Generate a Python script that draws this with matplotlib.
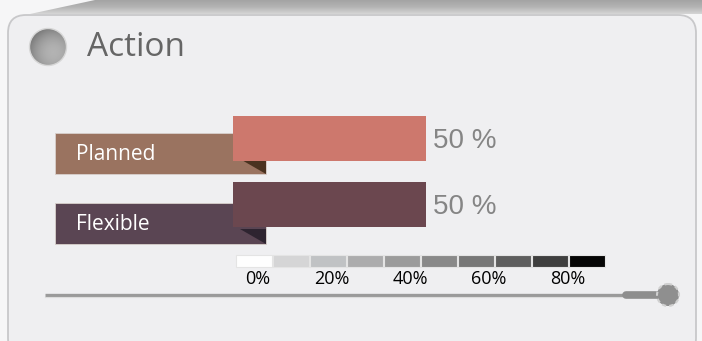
import numpy as np
import matplotlib
matplotlib.use("Agg")
import matplotlib.pyplot as plt
from matplotlib.patches import FancyBboxPatch, Rectangle, Polygon, Circle

# data
categories = ["Planned", "Flexible"]
values = [50, 50]
bar_colors = ["#cd786d", "#6b474f"]
label_colors = ["#9a7360", "#5a4553"]
corner_colors = ["#4a3220", "#2e2430"]
scale_colors = ["#fefefe", "#d5d5d6", "#c0c2c4", "#acacad", "#9b9b9b",
                "#898989", "#777777", "#5e5e5e", "#3f3f3f", "#050505"]
scale_labels = ["0%", "20%", "40%", "60%", "80%"]
scale_label_x = [258, 332, 410, 489, 568]

W, H = 702, 341
fig = plt.figure(figsize=(W / 100, H / 100), dpi=100)
fig.patch.set_facecolor("#f6f6f7")

# pixel-space overlay for the widget decoration
bg = fig.add_axes([0, 0, 1, 1], zorder=0)
bg.set_xlim(0, W); bg.set_ylim(H, 0); bg.axis("off")

# top gray strip
grad = np.linspace(0, 1, 20)[:, None] * np.ones((1, 50))
bg.imshow(grad, extent=(0, W, 14, 0), cmap=matplotlib.colors.LinearSegmentedColormap.from_list(
    "strip", ["#a4a4a4", "#b4b4b4", "#d4d4d4"]), aspect="auto", zorder=0)
bg.add_patch(Polygon([[0, 0], [95, 0], [30, 14], [0, 30]], closed=True,
                     facecolor="#f6f6f7", edgecolor="none", zorder=1))

# panel
bg.add_patch(FancyBboxPatch((8, 15), W - 14, H, boxstyle="round,pad=0,rounding_size=18",
                            facecolor="#efeff1", edgecolor="#c8c8ca", lw=1.3, zorder=2))

# round icon
yy, xx = np.mgrid[-1:1:60j, -1:1:60j]
shade = 0.68 + 0.14 * (xx + yy) / 2 - 0.12 * (xx ** 2 + yy ** 2)
im = bg.imshow(shade, extent=(29, 67, 66, 28), cmap="gray", vmin=0, vmax=1, zorder=3)
circ = Circle((48, 47), 18.5, transform=bg.transData)
im.set_clip_path(circ)
bg.add_patch(Circle((48, 47), 18.5, facecolor="none", edgecolor="#d6d6d6", lw=1, zorder=4))
bg.text(87, 47, "Action", fontsize=24, family="Open Sans", color="#666666",
        va="center", ha="left", zorder=4)

# category label boxes
box_y = [133, 203]
for i, cat in enumerate(categories):
    y0 = box_y[i]
    bg.add_patch(Rectangle((55, y0), 211, 41, facecolor=label_colors[i],
                           edgecolor="#d8d0cc", lw=0.6, zorder=3))
    bg.add_patch(Polygon([[240, y0 + 26], [266, y0 + 26], [266, y0 + 41]], closed=True,
                         facecolor=corner_colors[i], edgecolor="none", zorder=3))
    bg.text(76, y0 + 21, cat, fontsize=15, family="Open Sans", color="white",
            va="center", ha="left", zorder=4)

# gray scale legend
bw = 37
for i, c in enumerate(scale_colors):
    bg.add_patch(Rectangle((235.5 + i * bw, 255), bw - 1, 12, facecolor=c,
                           edgecolor="#e4e4e4", lw=0.8, zorder=3))
for x, lab in zip(scale_label_x, scale_labels):
    bg.text(x, 279.5, lab, fontsize=13, family="Open Sans", color="black",
            ha="center", va="center", zorder=4)

# slider
bg.plot([45, 628], [295, 295], color="#9a9a9a", lw=2.4, solid_capstyle="butt", zorder=3)
bg.plot([45, 628], [296.5, 296.5], color="#dcdcdc", lw=0.8, zorder=3)
bg.plot([626, 662], [295, 295], color="#8e8e8e", lw=5.5, solid_capstyle="round", zorder=3)
bg.add_patch(Circle((668, 295), 11, facecolor="#8f8f8f", edgecolor="#d0d0d0",
                    lw=1.5, ls=(0, (2, 1.5)), zorder=4))

# bars on their own value axes (0..100 spans 386 px)
ax = fig.add_axes([233 / W, 1 - 237.5 / H, 386 / W, 132 / H], zorder=2)
ax.patch.set_alpha(0)
y = np.arange(len(categories))
ax.barh(y, values, height=45 / 66, color=bar_colors)
ax.set_xlim(0, 100)
ax.set_ylim(1.5, -0.5)
for i, v in enumerate(values):
    ax.annotate(f"{v} %", (v, i), xytext=(5, 0.5), textcoords="offset points",
                fontsize=20, family="Liberation Sans", color="#858585",
                va="center_baseline")
ax.axis("off")

fig.savefig("out.png", dpi=100)
